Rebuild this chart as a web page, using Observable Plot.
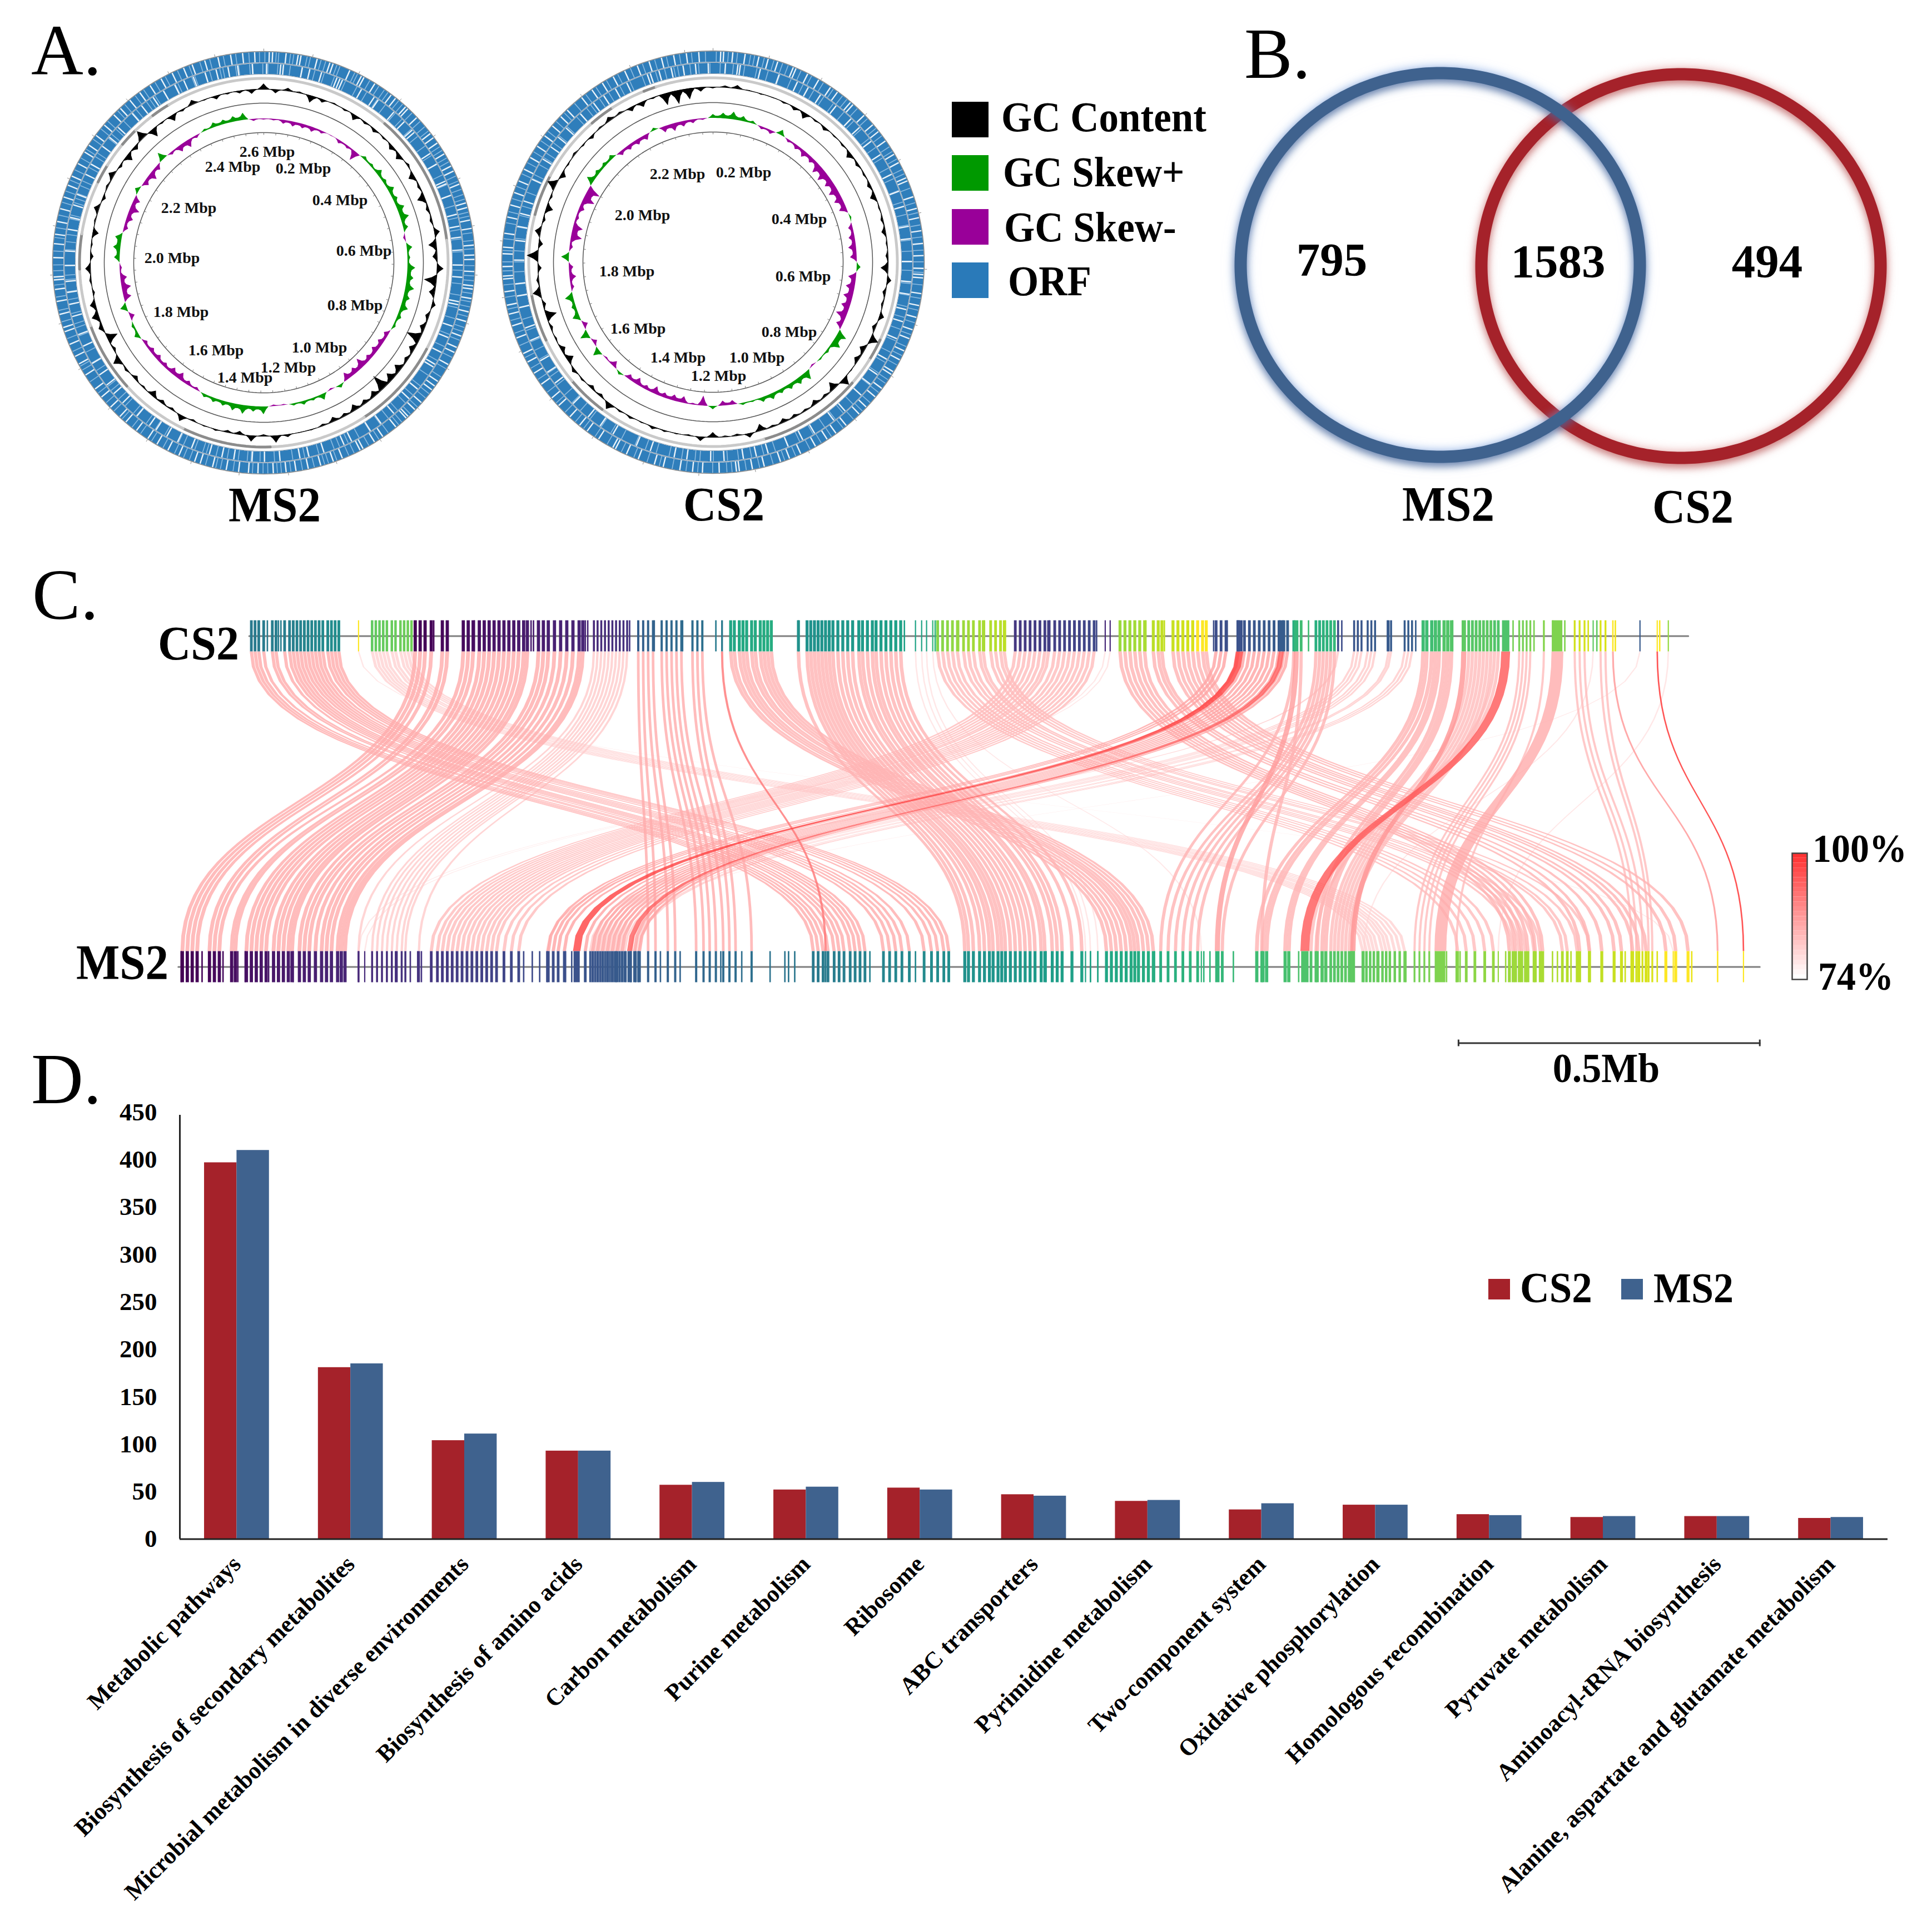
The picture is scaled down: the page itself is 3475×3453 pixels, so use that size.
<!DOCTYPE html>
<html><head><meta charset="utf-8">
<script src="https://cdn.jsdelivr.net/npm/d3@7"></script>
<script src="https://cdn.jsdelivr.net/npm/@observablehq/plot@0.6"></script>
<style>
html,body{margin:0;background:#fff}
#page{position:relative;width:3475px;height:3453px;overflow:hidden;background:#fff;font-family:"Liberation Serif",serif}
.t{position:absolute;line-height:1;white-space:nowrap;color:#000;transform-origin:0 83.75%}
.s{position:absolute}
</style></head><body><div id="page"></div>
<script>
// ---------- Panel A: tracks, one value every 4 degrees clockwise from the top
const ms2Gc=[10,-7,5,2,-13,-6,2,-3,-10,-4,-6,-3,-8,-10,4,-11,-4,-14,-5,-4,10,-14,-8,12,-22,-10,7,-6,-9,-26,-10,-6,-13,-14,-28,-10,-7,-11,-5,-8,-3,2,1,5,13,-3,11,-6,-4,3,2,-3,11,-4,-6,-11,-3,-7,4,14,-5,-20,8,13,10,-4,3,9,-6,-3,-11,2,9,-6,3,10,-5,-13,-8,16,-16,-3,-12,-4,8,-2,-7,-3,-5,-8];
const cs2Gc=[-3,3,6,1,-2,-1,-3,-6,-11,-3,-6,-2,-3,-10,-5,-3,-6,-10,-2,-4,-7,-2,-4,-13,8,-5,-3,9,-6,16,-10,-8,2,15,-14,-4,-8,-3,-5,-7,-3,-12,8,-3,-2,-9,8,-2,2,3,5,2,4,3,12,-5,-6,3,6,-13,-9,-3,-5,-20,-6,14,4,-7,20,-8,10,-5,-13,-4,16,-10,-3,3,-3,-6,2,7,3,-8,-10,-3,-22,-25,-20,-8];
const ms2Skew=[-2,-3,-7,-9,-8,-9,-5,-1,-6,-5,-18,6,5,11,7,12,9,14,16,9,-4,10,5,14,12,16,12,14,8,5,-9,-11,-12,-10,-18,-12,-14,6,-3,11,5,7,4,-2,-3,14,10,16,13,9,8,6,-5,-8,-14,-12,-8,-10,-9,-7,9,5,-9,12,-14,-17,-12,-4,10,13,12,-8,-12,-18,-12,8,-10,-15,-9,15,-5,-12,-14,-5,4,9,8,10,13,-4];
const cs2Skew=[7,10,14,9,5,-5,-7,10,-5,-8,-12,-10,-18,-20,-16,-18,-16,-14,3,-8,-11,-14,-12,7,-14,-16,-17,-16,-20,-12,18,17,5,3,-3,16,12,10,8,11,9,3,4,-8,-9,6,-18,-3,-12,-11,-9,-14,-8,-13,-9,5,-11,-3,14,-8,16,-9,13,8,15,-6,-12,-8,14,-6,-20,-18,-6,-10,-22,-24,14,8,7,8,-8,-9,-10,-10,5,-11,-14,-10,-7,-3];
// gaps between the ORF blocks, in degrees
const ms2OrfA=[1.5,2.4,6.1,9.4,10.2,14.7,18.3,19.2,24.1,27.6,28.4,31.8,37.2,38.7,42.3,43.1,46.5,52.2,53.6,55.4,58.9,62.7,64.2,68.1,73.5,74.8,78.3,80.6,85.2,87.9,89.1,92.4,96.3,97.2,99.8,103.5,106.2,110.4,113.7,115.2,118.9,124.3,125.8,127.1,131.6,134.2,136.8,137.5,141.2,145.6,148.3,151.9,152.8,158.1,160.7,164.3,167.8,171.2,173.9,177.4,181.6,184.2,186.9,190.3,194.1,197.6,199.2,203.8,207.1,210.5,213.4,217.2,220.9,223.1,226.7,230.4,233.2,237.8,241.3,243.6,247.2,250.9,252.1,255.8,259.4,262.7,265.3,266.1,271.4,275.2,277.8,281.3,284.9,288.2,291.6,294.3,298.1,301.7,303.9,307.2,310.8,314.6,317.1,320.5,323.9,327.3,330.8,334.2,337.6,340.1,343.7,347.4,350.9,354.2,357.5];
const ms2OrfB=[0.8,4.9,5.7,11.2,13.4,16.9,21.6,22.5,23.3,29.4,33.7,35.1,40.8,44.9,48.2,49.1,56.7,60.3,65.8,66.6,70.2,75.9,79.4,82.6,86.3,90.7,94.2,101.3,102.2,108.6,112.1,116.8,120.7,121.6,129.4,133.1,139.2,143.9,147.6,153.8,156.2,162.4,166.9,169.5,175.3,179.8,183.4,188.7,192.2,195.9,201.3,205.7,209.2,212.8,215.1,219.6,225.2,228.9,232.1,235.7,239.6,245.2,248.8,254.3,257.9,261.4,264.6,269.2,273.4,279.7,283.2,286.9,290.1,296.4,299.7,305.8,309.1,312.9,318.6,322.1,326.2,329.7,333.4,336.3,339.2,342.8,346.1,349.6,352.4,356.7];
const cs2OrfA=[2.1,2.9,5.4,8.8,12.6,15.2,17.9,22.4,23.2,26.7,30.1,33.9,36.2,40.7,41.6,45.8,49.3,51.7,54.9,59.2,61.8,66.4,67.3,71.9,75.2,77.8,81.4,84.9,88.2,91.7,93.4,94.3,98.6,101.9,105.2,108.7,111.3,114.9,117.6,121.3,122.2,126.8,129.7,133.4,136.1,140.8,144.3,147.2,150.9,155.4,158.7,161.3,165.9,169.2,172.8,173.6,178.3,182.9,185.6,189.1,193.7,196.2,200.8,204.3,207.6,208.4,212.9,216.7,219.3,222.8,227.1,229.9,234.6,238.2,241.7,244.3,248.9,252.4,255.7,258.2,261.9,265.4,266.2,268.8,272.3,274.1,277.9,282.4,285.8,289.3,292.7,296.2,299.8,303.4,306.9,310.3,313.7,316.2,321.4,324.9,328.3,331.7,335.2,338.9,342.3,345.8,349.2,352.7,356.1];
const cs2OrfB=[3.6,7.2,7.9,13.8,19.4,25.1,28.6,32.7,38.2,43.9,47.4,52.6,57.3,63.8,69.1,73.7,79.6,83.2,89.8,95.7,99.3,103.8,107.4,112.6,119.2,124.4,127.8,131.9,138.4,142.6,149.3,153.2,157.8,163.9,167.4,171.2,176.8,180.7,187.6,191.3,198.4,202.7,210.2,214.6,218.9,224.7,232.6,236.4,240.3,246.8,250.7,256.8,260.2,263.7,270.6,276.3,280.4,284.2,287.9,294.6,301.2,305.4,308.9,312.4,318.2,323.1,326.7,330.6,334.3,340.7,341.6,344.2,347.8,351.3,354.9,358.6];
// paler stripes inside the ORF blocks, in degrees
const ms2OrfPale=[0.3,3.4,4.1,7.3,8.2,11.9,12.8,15.8,17.1,20.3,21.2,25.6,26.4,30.2,33.1,34.9,36.1,39.8,41.2,44.7,47.9,49.8,51.3,56.6,57.8,60.2,61.4,65.7,67.2,69.6,71.1,72.4,76.1,77.2,81.8,83.9,86.2,90.8,93.6,94.9,98.4,100.7,102.1,104.8,107.9,109.1,111.6,116.7,120.2,122.8,128.4,129.9,133.2,135.9,139.1,140.2,143.8,146.9,150.1,154.6,156.2,159.7,162.1,163.2,166.1,169.4,172.6,175.2,176.3,178.9,180.2,183.1,188.4,191.9,193.2,196.1,200.7,202.4,205.1,208.6,212.2,215.8,218.7,222.2,225.3,228.4,231.8,235.6,239.4,240.6,245.1,248.9,253.7,256.9,260.6,263.9,267.8,269.4,273.2,276.9,279.6,283.1,286.7,289.9,293.1,296.2,299.8,302.6,305.9,309.4,312.2,316.1,318.7,322.4,325.2,328.9,332.1,335.8,339.2,342.3,345.1,348.9,352.3,355.9,358.8];
const cs2OrfPale=[0.9,4.2,6.7,10.3,11.4,14.1,16.8,19.3,20.9,24.7,27.9,31.6,34.8,37.9,39.4,43.2,47.1,50.6,53.2,56.8,58.3,60.7,63.9,65.2,69.4,73.6,76.4,79.8,83.1,86.7,89.9,92.8,96.2,99.9,103.2,106.7,110.1,113.6,116.3,119.2,123.9,125.1,128.2,131.8,134.9,138.2,141.9,145.8,149.1,152.6,156.9,160.1,163.4,167.2,170.9,174.8,176.2,180.1,184.2,187.4,191.2,194.8,198.3,202.1,205.8,210.2,214.1,217.9,220.8,224.6,228.1,231.9,236.2,239.8,243.1,246.7,250.3,253.9,257.1,260.4,263.8,267.6,270.1,273.2,276.4,280.8,283.9,287.6,291.1,294.8,298.2,301.6,305.2,308.4,311.9,315.1,318.9,322.8,326.2,329.6,333.1,336.9,340.4,343.9,347.2,350.8,354.1,357.9];
// grey track: [start degree, end degree, dark?]
const ms2Bands=[[-25,41,0],[41,83,1],[83,118,0],[118,147,1],[147,178,0],[178,206,1],[206,228,0],[228,250,1],[250,268,0],[268,279,1],[279,296,0],[296,302,1],[302,310,0],[310,316,1],[316,323,0],[323,329,1],[329,335,0]];
const cs2Bands=[[-13,115,0],[115,122,1],[122,131,0],[131,164,1],[164,217,0],[217,230,1],[230,245,0],[245,260,1],[260,285,0],[285,298,1],[298,319,0],[319,327,1],[327,338,0],[338,342,1],[342,347,0]];
const ms2LabelText=["2.6 Mbp","2.4 Mbp","0.2 Mbp","0.4 Mbp","2.2 Mbp","0.6 Mbp","2.0 Mbp","0.8 Mbp","1.8 Mbp","1.0 Mbp","1.6 Mbp","1.2 Mbp","1.4 Mbp"];
const ms2LabelX=[6,-56,71,137,-135,180,-165,164,-149,100,-86,44,-34];
const ms2LabelY=[-199,-172,-169,-112,-98,-21,-8,77,89,153,158,189,207];
const cs2LabelText=["0.2 Mbp","2.2 Mbp","0.4 Mbp","2.0 Mbp","0.6 Mbp","1.8 Mbp","0.8 Mbp","1.6 Mbp","1.0 Mbp","1.4 Mbp","1.2 Mbp"];
const cs2LabelX=[55,-64,155,-127,162,-155,137,-135,79,-63,10];
const cs2LabelY=[-161,-158,-77,-84,26,17,126,120,172,172,205];
// ---------- Panel B
const vennCounts=[795,1583,494];
const vennSets=["CS2","MS2"];
// ---------- Panel C: gene position on each genome, gene length, identity %
const cs2A=[204,207,210,214,221,224,231,235,238,241,244,247,250,253,256,259,262,266,269,272,275];
const ms2A=[660,664,668,672,677,681,685,690,694,698,702,717,722,727,732,738,750,756,761,766,770];
const cs2B=[337,341,345,350,359,363,376,380,384,389,393,397,401,405,409,413,417,421,425,428,437,441,445,450,455,460,465,470,473];
const ms2B=[148,152,156,160,170,174,178,188,191,200,204,208,212,216,222,226,230,234,237,243,247,251,256,261,265,269,274,277,280];
const cs2C=[482,485,488,491,494,497,500,503,506,509];
const ms2C=[291,302,306,310,314,318,322,326,329,340];
const cs2D=[518,522,526,530,537,541,545,549,553,562,566,570];
const ms2D=[526,532,542,548,565,571,576,581,587,592,597,610];
const cs2E=[593,596,600,603,606,610,613,617,620,623,626];
const ms2E=[898,902,906,910,914,918,921,924,928,932,936];
const cs2F=[648,655,658,661,664,667,670,673,676,680,684,688,692,697,700,704,708,711,715,719,723,727,731];
const ms2F=[783,786,790,795,799,803,806,810,813,816,820,824,828,832,836,840,845,848,854,858,862,870,878];
const cs2G=[761,765,769,773,777,782,786,790,795,798,804,808,812,815];
const ms2G=[1183,1190,1197,1205,1212,1228,1233,1238,1245,1250,1268,1272,1280,1290];
const cs2H=[824,828,832,836,840,844,848,851,856,860,864,868,872,876,880,884,888];
const ms2H=[350,355,359,363,367,371,375,379,383,387,391,395,399,403,409,415,421];
const cs2I=[909,913,917,921,925,929,936,940,943,952,956,960,964,968,972,976,979];
const ms2I=[1225,1230,1235,1240,1246,1252,1282,1290,1300,1310,1316,1325,1330,1336,1352,1360,1370];
const cs2J=[987,991,995,1005,1010,1014,1018,1022,1026,1030,1034,1038,1042,1045];
const ms2J=[445,449,453,458,475,481,485,489,493,497,501,505,515,519];
const cs2K=[1050,1056,1068,1071,1074,1077,1080,1083];
const ms2K=[942,1024,948,954,960,966,972,992];
const cs2L=[1086,1099,1102,1105,1110,1113,1116,1127,1129,1140,1143,1146];
const ms2L=[444,479,483,487,491,495,499,503,507,512,516,518];
const cs2M=[1155,1158,1162,1165,1168,1172,1175,1178];
const ms2M=[1020,1025,1028,1043,1046,1069,1073,1076];
const cs2N=[1192,1195,1198,1201,1204,1207,1210,1213,1216];
const ms2N=[1080,1083,1086,1089,1092,1095,1097,1064,1068];
const cs2O=[302,305,308,311,314,318,321,325,328,331,334];
const ms2O=[1106,1109,1112,1115,1118,1122,1125,1128,1132,1136,1140];
const cs2P=[1233,1236,1239,1242,1253,1278,1282,1286,1299,1303];
const ms2P=[1148,1152,1156,1160,1182,1324,1328,1333,1338,1341];
const cs2Q=[291,897,901,1293,1331,1354,743,748,752,757];
const ms2Q=[1358,291,296,1107,500,1216,881,885,891,975];
const boldCs2=[586,1006,1040,1052,1188,1222,1264,1309,1345];
const boldMs2=[670,468,511,988,1098,1059,1169,1394,1415];
const boldLen=[1.5,5,3.5,3.5,3.5,6,8,1.2,1];
const boldId=[90,97,93,85,86,94,83,86,100];
const syntenyBlocks=[[cs2A,ms2A,2.2,83],[cs2B,ms2B,2.6,83],[cs2C,ms2C,1.6,79],[cs2D,ms2D,1.8,83],[cs2E,ms2E,2.4,82],[cs2F,ms2F,2.4,82],[cs2G,ms2G,2.2,81],[cs2H,ms2H,2.2,81],[cs2I,ms2I,2.4,82],[cs2J,ms2J,2.2,84],[cs2K,ms2K,2.2,82],[cs2L,ms2L,1.6,79],[cs2M,ms2M,2.6,82],[cs2N,ms2N,2.2,81],[cs2O,ms2O,2,78],[cs2P,ms2P,1.5,81],[cs2Q,ms2Q,1,76]];
const ms2Extra=[147,164,181,193,199,218,238,321,333,339,342,425,432,438,459,464,508,536,552,602,585,625,637,640,645,706,743,849,885,891,937,977,982,1001,1054,1099,1119,1141,1165,1174,1185,1222,1260,1264,1275,1319,1345,1373];
const cs2Extra=[217,226,228,250,352,385,431,433,475,477,511,531,554,581,648,734,759,778,799,816,852,890,930,945,985,996,1062,1089,1126,1149,1179,1228,1245,1260,1270,1289,1296,1311,1347];
const ms2Span=[144.5,1428], cs2Span=[202,1370];
const scaleBar=[1183.5,1428];
const idStops=[74,75,76,77,78,79,80,81,82,83,84,85,86,87,88,89,90,91,92,93,94,95,96,97,98,99];
// ---------- Panel D
const categories=["Metabolic pathways","Biosynthesis of secondary metabolites","Microbial metabolism in diverse environments","Biosynthesis of amino acids","Carbon metabolism","Purine metabolism","Ribosome","ABC transporters","Pyrimidine metabolism","Two-component system","Oxidative phosphorylation","Homologous recombination","Pyruvate metabolism","Aminoacyl-tRNA biosynthesis","Alanine, aspartate and glutamate metabolism"];
const cs2Values=[397,181,104,93,57,52,54,47,40,31,36,26,23,24,22];
const ms2Values=[410,185,111,93,60,55,52,45.5,41,37.5,36,25,24,24,23];
const yTicks=[0,50,100,150,200,250,300,350,400,450];
const RED="#a5222a",BLUE="#3f628e";
// ---------- page text: [text, x, baseline, size, weight, anchor]
const pageTexts=[
["A.",56,134,130,"normal","start"],["B.",2238,140,130,"normal","start"],["C.",58,1113,130,"normal","start"],["D.",56,1984,130,"normal","start"],
["MS2",494,938,83,"bold","middle"],["CS2",1302,937,82,"bold","middle"],
["GC Content",1801,236,71,"bold","start"],["GC Skew+",1804,335,71,"bold","start"],["GC Skew-",1806,434,71,"bold","start"],["ORF",1813,531,71,"bold","start"],
["MS2",2605,937,83,"bold","middle"],["CS2",3045,941,82,"bold","middle"],
["CS2",357,1187,82,"bold","middle"],["MS2",220,1761,83,"bold","middle"],
["100%",3260,1550,68,"bold","start"],["74%",3270,1780,68,"bold","start"],["0.5Mb",2889,1947,70,"bold","middle"],
["CS2",2734,2342,73,"bold","start"],["MS2",2974,2342,72,"bold","start"]];
const swatches=[[1712,183,66,64,"#000"],[1712,279,66,64,"#009900"],[1712,376,66,64,"#990099"],[1712,472,66,64,"#2a7ab9"],[2677,2300,39,37,RED],[2916,2300,39,37,BLUE]];

const page=document.getElementById("page");
const place=(svg,left,top)=>{svg.style.left=left+"px";svg.style.top=top+"px";svg.style.position="absolute";svg.style.background="transparent";page.appendChild(svg);};
const serif={fontFamily:'"Liberation Serif",serif',fontWeight:"bold",background:"transparent",overflow:"visible"};
const px=(r,a)=>r*Math.sin(a*Math.PI/180), py=(r,a)=>-r*Math.cos(a*Math.PI/180);
const arc=(r,a0=0,a1=360)=>{const o=[];for(let a=a0;a<=a1;a+=1.5)o.push([px(r,a),py(r,a)]);o.push([px(r,a1),py(r,a1)]);return o;};

function circular(cfg){
  // each sample is a sharp peak; neighbours of one sign stay joined by a shoulder
  const peaks=(vals,k)=>{const o=[];vals.forEach((v,i)=>{const n=vals[(i+1)%vals.length];
      const mid=v*n>0?Math.sign(v)*Math.min(Math.abs(v),Math.abs(n))*k:0;
      const prev=vals[(i+vals.length-1)%vals.length];
      const midP=v*prev>0?Math.sign(v)*Math.min(Math.abs(v),Math.abs(prev))*k:0;
      o.push({a:i*4-1,v:(midP+v)*.38},{a:i*4,v},{a:i*4+1,v:(mid+v)*.38},{a:i*4+2,v:mid});});
    o.unshift({a:-2,v:o[o.length-1].v});return o;};
  const area=(vals,k,R,f,fill)=>Plot.area(peaks(vals,k),{x1:d=>px(R,d.a),y1:d=>py(R,d.a),x2:d=>px(R+f(d.v),d.a),y2:d=>py(R+f(d.v),d.a),fill});
  const ring=(r,stroke,w)=>Plot.line(arc(r),{x:d=>d[0],y:d=>d[1],stroke,strokeWidth:w});
  const stripes=(list,r0,r1,stroke,w)=>Plot.link(list,{x1:a=>px(r0,a),y1:a=>py(r0,a),x2:a=>px(r1,a),y2:a=>py(r1,a),stroke,strokeWidth:w});
  const bands=cfg.bands.flatMap((b,k)=>arc(331.5,b[0],b[1]).map(p=>({x:p[0],y:p[1],k,dark:b[2]})));
  const outer=d3.range(0,360,360/(cfg.mb*10));
  const inner=d3.range(0,360,360/(cfg.mb*25));
  const mirrored=cfg.pale.map(a=>360-a);
  return Plot.plot({width:840,height:840,margin:0,style:serif,
    x:{domain:[-420,420],axis:null},y:{domain:[420,-420],axis:null},
    marks:[
      ring(370,"#2f7ebb",19),ring(349,"#2f7ebb",19),
      stripes(cfg.pale,360.5,379,"#8dbbe0",1.6),stripes(mirrored,339.5,358,"#8dbbe0",1.6),
      stripes(cfg.orfA,360.5,379,"#eaf3fa",2.4),stripes(cfg.orfB,339.5,358,"#eaf3fa",2.4),
      ring(380,"#8a8a8a",1.5),ring(359.5,"#93a3b3",1.5),ring(339,"#93a3b3",1),
      Plot.line(bands,{x:"x",y:"y",z:"k",stroke:d=>d.dark?"#8c8c8c":"#c9c9c9",strokeWidth:5}),
      stripes(outer,381,385,"#888",1),
      ring(cfg.gcR,"#000",1.2),
      area(cfg.gc,.2,cfg.gcR,v=>v,"#000"),
      ring(287,"#555",1.5),ring(234,"#555",1.5),
      area(cfg.skew,.55,259,v=>Math.max(v,0),"#009900"),
      area(cfg.skew,.55,259,v=>Math.min(v,0),"#990099"),
      stripes(inner,234,230,"#777",1),
      Plot.text(cfg.labels,{x:(t,i)=>cfg.lx[i],y:(t,i)=>cfg.ly[i],text:t=>t,fontSize:28,fill:"#111",textAnchor:"middle"})
    ]});
}
place(circular({gc:ms2Gc,skew:ms2Skew,orfA:ms2OrfA,orfB:ms2OrfB,pale:ms2OrfPale,bands:ms2Bands,labels:ms2LabelText,lx:ms2LabelX,ly:ms2LabelY,mb:2.7,gcR:312}),474-420,472-420);
place(circular({gc:cs2Gc,skew:cs2Skew,orfA:cs2OrfA,orfB:cs2OrfB,pale:cs2OrfPale,bands:cs2Bands,labels:cs2LabelText,lx:cs2LabelX,ly:cs2LabelY,mb:2.35,gcR:315}),1282-420,471-420);

// Panel B
const vennGeom={CS2:[3023,478,RED,"rgba(170,60,60,.55)","rgba(225,140,140,.45)"],MS2:[2590,476,BLUE,"rgba(50,80,130,.6)","rgba(130,170,235,.55)"]};
const ellipse=(name)=>{const [cx,cy]=vennGeom[name];return d3.range(0,361,1).map(a=>[cx+359*Math.cos(a*Math.PI/180),cy+345*Math.sin(a*Math.PI/180)]);};
place(Plot.plot({width:1375,height:900,margin:0,style:serif,
  x:{domain:[2100,3475],axis:null},y:{domain:[900,0],axis:null},
  marks:[
    ...vennSets.map(n=>Plot.line(ellipse(n),{x:d=>d[0],y:d=>d[1],stroke:vennGeom[n][2],strokeWidth:22,imageFilter:`drop-shadow(0 7px 7px ${vennGeom[n][3]}) drop-shadow(0 -3px 8px ${vennGeom[n][4]})`})),
    Plot.text(vennCounts,{x:(d,i)=>[2395,2802,3178][i],y:(d,i)=>[468,471,471][i],text:d=>String(d),fontSize:85,fill:"#000"})
  ]}),2100,0);

// Panel C
const links=[];
syntenyBlocks.forEach(([c,m,w,id])=>c.forEach((x,i)=>links.push({cs2:x,ms2:m[i],w,id})));
boldCs2.forEach((x,i)=>links.push({cs2:x,ms2:boldMs2[i],w:boldLen[i],id:boldId[i]}));
links.sort((a,b)=>a.id-b.id);
const H=0.047;
// a link is a ribbon of constant gene length along a vertical-tangent cubic between the two tracks
const ribbons=links.flatMap((l,k)=>d3.range(0,1.0001,1/28).map(t=>{
  const u=1-t,y0=H,y1=1-H,ym=(y0+y1)/2;
  const x=u*u*u*l.ms2+3*u*u*t*l.ms2+3*u*t*t*l.cs2+t*t*t*l.cs2;
  const y=u*u*u*y0+3*u*u*t*ym+3*u*t*t*ym+t*t*t*y1;
  return {k,id:l.id,a:x-l.w*.6,b:x+l.w*.6,y};
}));
const vir=x=>d3.interpolateViridis(Math.max(0,Math.min(1,(x-147)/(1415-147))));
const ms2Genes=links.map(d=>({x:d.ms2,w:d.w,fill:d.ms2>=1345?"#fde725":vir(d.ms2)})).concat(ms2Extra.map(x=>({x,w:1.2,fill:vir(x)})));
const cs2Genes=links.map(d=>({x:d.cs2,w:d.w,fill:d.ms2>=1345?"#fde725":vir(d.ms2)})).concat(cs2Extra.map((x,i)=>{const n=links.reduce((b,l)=>Math.abs(l.cs2-x)<Math.abs(b.cs2-x)?l:b,links[0]);return {x,w:1.2,fill:vir(n.ms2)};}));
place(Plot.plot({width:3475,height:833,margin:0,style:serif,
  x:{domain:[0,1568],axis:null},y:{domain:[-0.3,1.1],axis:null},
  color:{type:"linear",domain:[74,100],range:["#fff0f0","#ff2a2a"]},
  marks:[
    Plot.area(ribbons,{x1:"a",x2:"b",y1:"y",y2:"y",z:"k",fill:"id",fillOpacity:.8}),
    Plot.line(ms2Span,{x:d=>d,y:0,stroke:"#7f7f7f",strokeWidth:3}),
    Plot.line(cs2Span,{x:d=>d,y:1,stroke:"#7f7f7f",strokeWidth:3}),
    Plot.rect(ms2Genes,{x1:d=>d.x-d.w/2,x2:d=>d.x+d.w/2,y1:-H,y2:H,fill:d=>d.fill}),
    Plot.rect(cs2Genes,{x1:d=>d.x-d.w/2,x2:d=>d.x+d.w/2,y1:1-H,y2:1+H,fill:d=>d.fill}),
    Plot.line(scaleBar,{x:d=>d,y:-0.2303,stroke:"#333",strokeWidth:3}),
    Plot.ruleX(scaleBar,{y1:-0.2403,y2:-0.2203,stroke:"#333",strokeWidth:3})
  ]}),0,1083.5);
place(Plot.plot({width:47,height:247,margin:10,style:serif,
  x:{domain:[0,1],axis:null},y:{domain:[74,100],axis:null},
  color:{type:"linear",domain:[74,100],range:["#ffffff","#ff2a2a"]},
  marks:[Plot.rect(idStops,{x1:0,x2:1,y1:d=>d,y2:d=>d+1,fill:d=>d}),Plot.frame({stroke:"#444",strokeWidth:2.5})]}),3213,1524);

// Panel D
const rows=categories.flatMap((c,i)=>[{i,s:"CS2",v:cs2Values[i],a:i-.285,b:i},{i,s:"MS2",v:ms2Values[i],a:i,b:i+.285}]);
place(Plot.plot({width:3475,height:1483,marginLeft:323,marginRight:80,marginTop:30,marginBottom:685.5,style:serif,
  x:{type:"linear",domain:[-.5,14.5]},y:{domain:[0,450]},
  color:{domain:["CS2","MS2"],range:[RED,BLUE]},
  marks:[
    Plot.rect(rows,{x1:"a",x2:"b",y1:0,y2:"v",fill:"s"}),
    Plot.ruleY([0],{stroke:"#222",strokeWidth:3}),
    Plot.ruleX([-.5],{y1:0,y2:447,stroke:"#222",strokeWidth:3}),
    Plot.axisY({ticks:yTicks,tickSize:0,tickPadding:41,fontSize:45,label:null,line:false,fill:"#000"}),
    Plot.axisX({ticks:categories.map((c,i)=>i),tickFormat:i=>categories[i],tickRotate:-45,tickSize:0,tickPadding:38,fontSize:43,label:null,fill:"#000"})
  ]}),0,1970);

// Page text and legend swatches
pageTexts.forEach(([t,x,b,s,w,a])=>{const d=document.createElement("div");d.className="t";d.textContent=t;
  d.style.cssText+=`left:${x}px;top:${b-0.8375*s}px;font-size:${s}px;font-weight:${w};transform:${a==="middle"?"translateX(-50%) ":""}${w==="bold"?"scaleY(1.07)":""};`;page.appendChild(d);});
swatches.forEach(([x,y,w,h,c])=>{const d=document.createElement("div");d.className="s";d.style.cssText=`left:${x}px;top:${y}px;width:${w}px;height:${h}px;background:${c}`;page.appendChild(d);});
</script></body></html>
